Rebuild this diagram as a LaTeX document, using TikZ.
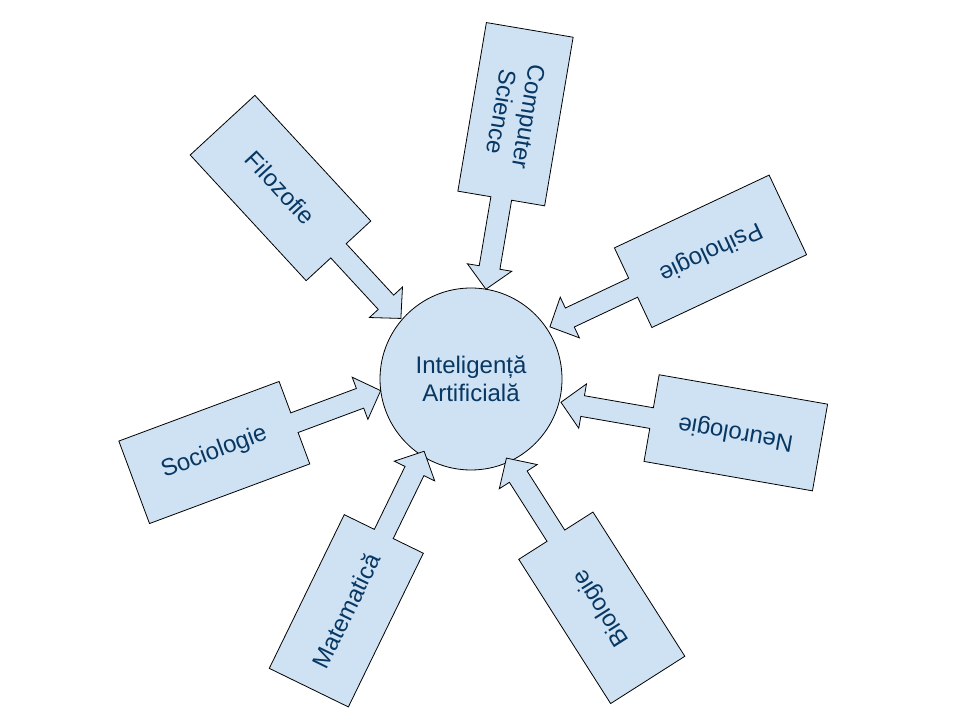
\documentclass[tikz,border=0pt]{standalone}
\usepackage{fontspec}
\setmainfont{Liberation Sans}
\definecolor{fillblue}{HTML}{CFE2F3}
\definecolor{textblue}{HTML}{073763}
\tikzset{
  shapefill/.style={draw=black, line width=0.8pt, fill=fillblue, line join=miter},
  lbl/.style={text=textblue, font=\fontsize{24}{27.5}\selectfont, align=center, transform shape, inner sep=0pt},
  pics/callout/.style={code={
    \filldraw[shapefill] (177.5,0) -- (155.5,22.5) -- (155.5,10.5) -- (85.5,10.5) -- (85.5,44)
      -- (-85.5,44) -- (-85.5,-44) -- (85.5,-44) -- (85.5,-10.5) -- (155.5,-10.5)
      -- (155.5,-22.5) -- cycle;
    \node[lbl] (-body) at (0,0) {#1};
  }}
}
\begin{document}
\begin{tikzpicture}[x=1pt,y=1pt]
\useasboundingbox (0,0) rectangle (960,720);
\node[circle, draw=black, line width=0.8pt, fill=fillblue, minimum size=182pt, inner sep=0pt,
      text=textblue, font=\fontsize{24}{27.5}\selectfont, align=center] (ai) at (471,341)
      {Inteligență\\Artificială};
\path (280.5,532) pic[rotate=-47.3] (filo) {callout={Filozofie}};
\path (515.5,605.8) pic[rotate=-99.6] (cs) {callout={Computer\\Science}};
\path (710.5,468.7) pic[rotate=-154.8] (psi) {callout={Psihologie}};
\path (735.8,287.2) pic[rotate=170.1] (neu) {callout={Neurologie}};
\path (214.3,267.5) pic[rotate=20.4] (soc) {callout={Sociologie}};
\path (346.3,109.2) pic[rotate=64] (mat) {callout={Matematică}};
\path (601.8,112.2) pic[rotate=122.5] (bio) {callout={Biologie}};
\end{tikzpicture}
\end{document}
